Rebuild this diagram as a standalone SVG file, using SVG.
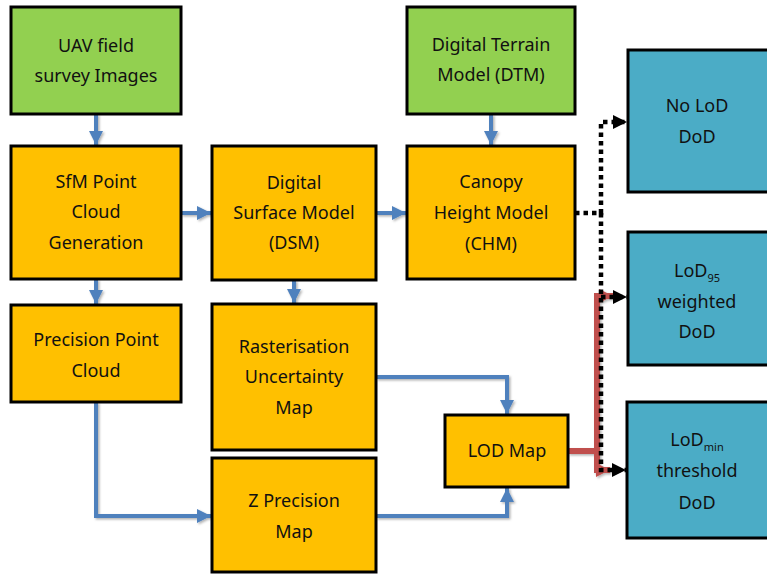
<svg xmlns="http://www.w3.org/2000/svg" width="767" height="576" viewBox="0 0 767 576">
  <style>
    .box { stroke: #000; stroke-width: 3; }
    .green { fill: #92D050; }
    .orange { fill: #FFC000; }
    .teal { fill: #4BACC6; }
    text { font-family: "Noto Sans", "Open Sans", "DejaVu Sans", sans-serif; font-size: 18px; fill: #111; text-anchor: middle; }
    .sub { font-size: 11px; }
    .blue { fill: none; stroke: #4F81BD; stroke-width: 4; }
    .red { fill: none; stroke: #C0504D; stroke-width: 6; }
    .dots { fill: none; stroke: #000; stroke-width: 4.5; stroke-dasharray: 4.5 4; }
  </style>
  <defs>
    <marker id="ab" viewBox="0 0 10 10" refX="10" refY="5" markerWidth="3.6" markerHeight="3.6" orient="auto" markerUnits="strokeWidth">
      <path d="M0,0 L10,5 L0,10 z" fill="#4F81BD"/>
    </marker>
    <marker id="ak" viewBox="0 0 10 10" refX="10" refY="5" markerWidth="3.2" markerHeight="3.2" orient="auto" markerUnits="strokeWidth">
      <path d="M0,0 L10,5 L0,10 z" fill="#000"/>
    </marker>
    <marker id="ar" viewBox="0 0 10 10" refX="10" refY="5" markerWidth="2.4" markerHeight="2.4" orient="auto" markerUnits="strokeWidth">
      <path d="M0,0 L10,5 L0,10 z" fill="#C0504D"/>
    </marker>
    <filter id="sh" x="-10%" y="-10%" width="130%" height="130%">
      <feDropShadow dx="1.5" dy="1.5" stdDeviation="1" flood-color="#000" flood-opacity="0.3"/>
    </filter>
  </defs>

  <g id="connectors">
    <g filter="url(#sh)">
      <path class="blue" d="M96,114 V145" marker-end="url(#ab)"/>
      <path class="blue" d="M181,213 H211" marker-end="url(#ab)"/>
      <path class="blue" d="M376,213 H406" marker-end="url(#ab)"/>
      <path class="blue" d="M491,114 V145" marker-end="url(#ab)"/>
      <path class="blue" d="M96,279 V304" marker-end="url(#ab)"/>
      <path class="blue" d="M294,280 V303" marker-end="url(#ab)"/>
      <path class="blue" d="M96,402 V516 H211" marker-end="url(#ab)"/>
      <path class="blue" d="M376,377 H507 V414" marker-end="url(#ab)"/>
      <path class="blue" d="M376,516 H507 V488" marker-end="url(#ab)"/>
      <path class="red" d="M568,451 H597 V296 H613" marker-end="url(#ar)"/>
      <path class="red" d="M597,451 V470 H610" marker-end="url(#ar)"/>
    </g>
    <path class="dots" d="M575,213 H601 V122 H627" marker-end="url(#ak)"/>
    <path class="dots" d="M601,213 V470 H626" marker-end="url(#ak)"/>
    <path class="dots" d="M601,297 H627" marker-end="url(#ak)"/>
  </g>

  <g id="uav">
    <rect class="box green" x="11" y="7" width="170" height="107"/>
    <text x="96" y="52">UAV field</text>
    <text x="96" y="82">survey Images</text>
  </g>
  <g id="dtm">
    <rect class="box green" x="407" y="7" width="168" height="107"/>
    <text x="491" y="51">Digital Terrain</text>
    <text x="491" y="81">Model (DTM)</text>
  </g>
  <g id="sfm">
    <rect class="box orange" x="11" y="146" width="170" height="133"/>
    <text x="96" y="188">SfM Point</text>
    <text x="96" y="218">Cloud</text>
    <text x="96" y="249">Generation</text>
  </g>
  <g id="dsm">
    <rect class="box orange" x="212" y="146" width="164" height="134"/>
    <text x="294" y="189">Digital</text>
    <text x="294" y="219">Surface Model</text>
    <text x="294" y="249">(DSM)</text>
  </g>
  <g id="chm">
    <rect class="box orange" x="407" y="146" width="168" height="133"/>
    <text x="491" y="188">Canopy</text>
    <text x="491" y="219">Height Model</text>
    <text x="491" y="250">(CHM)</text>
  </g>
  <g id="ppc">
    <rect class="box orange" x="11" y="305" width="170" height="97"/>
    <text x="96" y="346">Precision Point</text>
    <text x="96" y="377">Cloud</text>
  </g>
  <g id="rast">
    <rect class="box orange" x="212" y="304" width="164" height="146"/>
    <text x="294" y="353">Rasterisation</text>
    <text x="294" y="383">Uncertainty</text>
    <text x="294" y="414">Map</text>
  </g>
  <g id="zprec">
    <rect class="box orange" x="212" y="458" width="164" height="114"/>
    <text x="294" y="507">Z Precision</text>
    <text x="294" y="538">Map</text>
  </g>
  <g id="lodmap">
    <rect class="box orange" x="445" y="415" width="123" height="72"/>
    <text x="507" y="457">LOD Map</text>
  </g>
  <g id="nolod">
    <rect class="box teal" x="628" y="50" width="145" height="142"/>
    <text x="697" y="112">No LoD</text>
    <text x="697" y="143">DoD</text>
  </g>
  <g id="lod95">
    <rect class="box teal" x="628" y="232" width="145" height="133"/>
    <text x="697" y="277">LoD<tspan class="sub" dy="5">95</tspan></text>
    <text x="697" y="308">weighted</text>
    <text x="697" y="338">DoD</text>
  </g>
  <g id="lodmin">
    <rect class="box teal" x="627" y="402" width="146" height="136"/>
    <text x="697" y="446">LoD<tspan class="sub" dy="5">min</tspan></text>
    <text x="697" y="477">threshold</text>
    <text x="697" y="509">DoD</text>
  </g>
</svg>
